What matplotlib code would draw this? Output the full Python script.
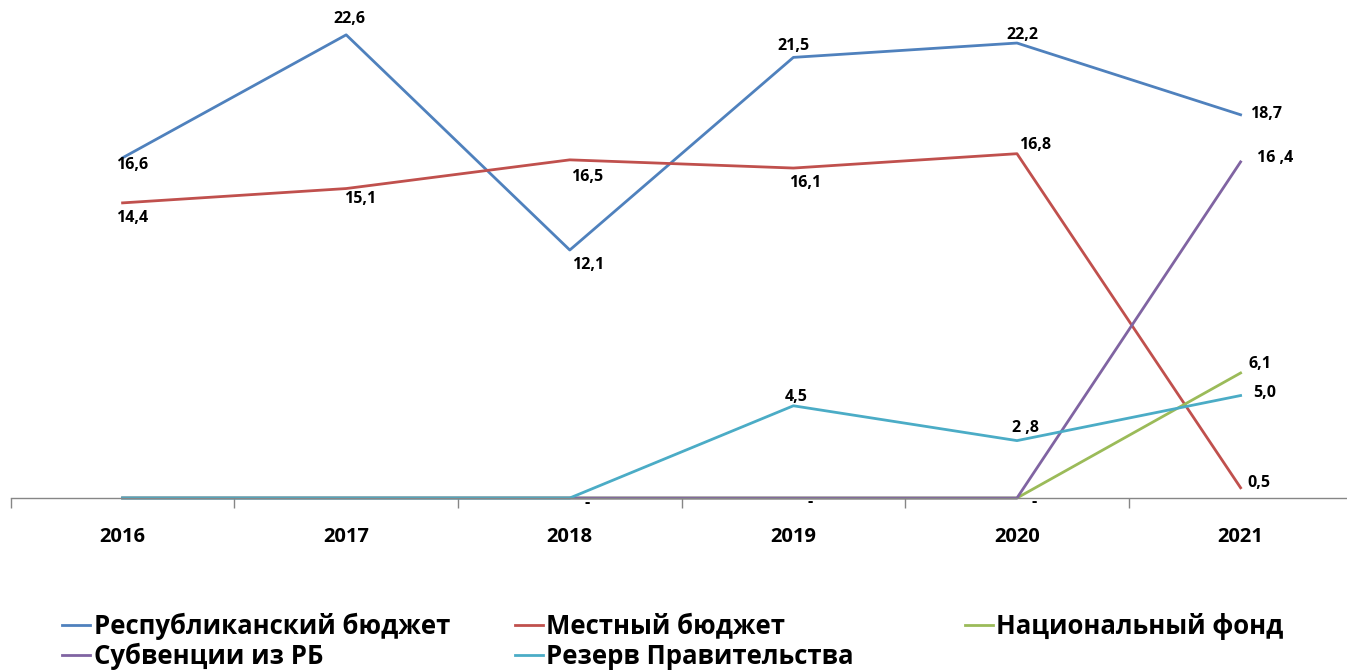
import matplotlib.pyplot as plt
from matplotlib.lines import Line2D

years = ["2016", "2017", "2018", "2019", "2020", "2021"]

resp = [16.6, 22.6, 12.1, 21.5, 22.2, 18.7]
mest = [14.4, 15.1, 16.5, 16.1, 16.8, 0.5]
nats = [0, 0, 0, 0, 0, 6.1]
subv = [0, 0, 0, 0, 0, 16.4]
rezv = [0, 0, 0, 4.5, 2.8, 5.0]

resp_lbl = ["16,6", "22,6", "12,1", "21,5", "22,2", "18,7"]
mest_lbl = ["14,4", "15,1", "16,5", "16,1", "16,8", "0,5"]
nats_lbl = ["", "", "", "", "", "6,1"]
subv_lbl = ["", "", "-", "-", "-", "16 ,4"]
rezv_lbl = ["", "", "", "4,5", "2 ,8", "5,0"]

names = ["Республиканский бюджет", "Местный бюджет", "Национальный фонд",
         "Субвенции из РБ", "Резерв Правительства"]
colors = ["#4F81BD", "#C0504D", "#9BBB59", "#8064A2", "#4BACC6"]

# сдвиги подписей в пикселях (dx, dy)
resp_off = [(10, -7), (3, 16), (18, -15), (0, 11), (5, 8), (25, 1)]
mest_off = [(10, -15), (14, -10), (17, -17), (12, -15), (18, 9), (18, 5)]
nats_off = [(0, 0)] * 5 + [(19, 9)]
subv_off = [(0, 0), (0, 0), (17, -5), (17, -4), (17, -4), (35, 4)]
rezv_off = [(0, 0)] * 3 + [(3, 9), (8, 13), (24, 3)]

plt.rcParams['font.family'] = ['Open Sans', 'DejaVu Sans']

fig = plt.figure(figsize=(13.47, 6.70), dpi=100)
ax = fig.add_axes([0.008, 1 - 498 / 670, 0.996, 498 / 670])

x = list(range(len(years)))
series = [(resp, resp_lbl, resp_off), (mest, mest_lbl, mest_off),
          (nats, nats_lbl, nats_off), (subv, subv_lbl, subv_off),
          (rezv, rezv_lbl, rezv_off)]
for (vals, lbls, offs), name, c in zip(series, names, colors):
    ax.plot(x, vals, color=c, lw=2.0, label=name, clip_on=False)
    for xi, v, t, (dx, dy) in zip(x, vals, lbls, offs):
        if t:
            ax.annotate(t, (xi, v), xytext=(dx, dy), textcoords="offset pixels",
                        ha="center", va="center", fontsize=11.5,
                        fontweight="bold", color="black")

ax.set_xlim(-0.5, 5.5)
ax.set_ylim(0, 24.3)
for s in ["top", "left", "right"]:
    ax.spines[s].set_visible(False)
ax.spines["bottom"].set_color("#868686")
ax.spines["bottom"].set_linewidth(1.0)
ax.set_yticks([])
ax.set_xticks(x)
ax.set_xticklabels(years, fontsize=14.5, fontweight="bold")
ax.tick_params(axis="x", which="major", length=0, pad=21)
ax.set_xticks([i - 0.5 for i in range(len(years) + 1)], minor=True)
ax.tick_params(axis="x", which="minor", length=7, color="#868686", width=1)

# легенда: три колонки одинаковой ширины, как в Excel
cols = [[0, 3], [1, 4], [2]]
col_x = [0.029, 0.365, 0.699]
for idx, cx in zip(cols, col_x):
    hs = [Line2D([], [], color=colors[i], lw=2.0) for i in idx]
    fig.legend(hs, [names[i] for i in idx], loc="upper left",
               bbox_to_anchor=(cx, 0.12), frameon=False,
               handlelength=1.1, handletextpad=0.12, labelspacing=0.12,
               prop={"weight": "bold", "size": 18.5})

fig.savefig("out.png", dpi=100)
